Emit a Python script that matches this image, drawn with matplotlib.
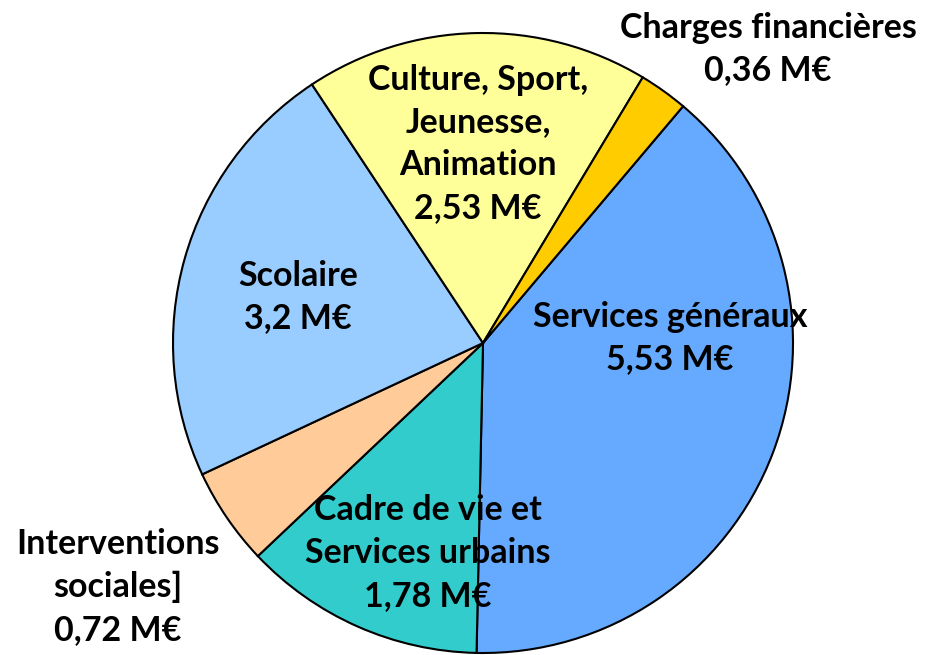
import matplotlib
matplotlib.use("Agg")
import matplotlib.pyplot as plt

categories = ["Services généraux", "Cadre de vie et\nServices urbains", "Interventions\nsociales]",
              "Scolaire", "Culture, Sport,\nJeunesse,\nAnimation", "Charges financières"]
values = [5.53, 1.78, 0.72, 3.2, 2.53, 0.36]
value_labels = ["5,53 M€", "1,78 M€", "0,72 M€", "3,2 M€", "2,53 M€", "0,36 M€"]
colors = ["#66AAFF", "#33CCCC", "#FFCC99", "#99CCFF", "#FFFF99", "#FFCC00"]

W, H = 925, 655
fig = plt.figure(figsize=(W / 100, H / 100), dpi=100)
cx, cy, r = 483, 343, 310
ax = fig.add_axes([(cx - r) / W, (H - cy - r) / H, 2 * r / W, 2 * r / H])
ax.pie(values, colors=colors, startangle=49.8, counterclock=False, radius=1,
       wedgeprops=dict(edgecolor="black", linewidth=1.5))
ax.set_xlim(-1, 1)
ax.set_ylim(-1, 1)
ax.set_aspect("equal")
ax.axis("off")

# label centers in pixel coords
label_pos = [(670, 338), (428, 553), (118, 587), (298, 297), (478, 144), (768, 49)]
for cat, vl, (px, py) in zip(categories, value_labels, label_pos):
    fig.text(px / W, 1 - py / H, cat + "\n" + vl, ha="center", va="center",
             fontsize=24.5, fontweight="bold", family="Lato", linespacing=1.42,
             color="black")

fig.savefig("out.png", dpi=100)
